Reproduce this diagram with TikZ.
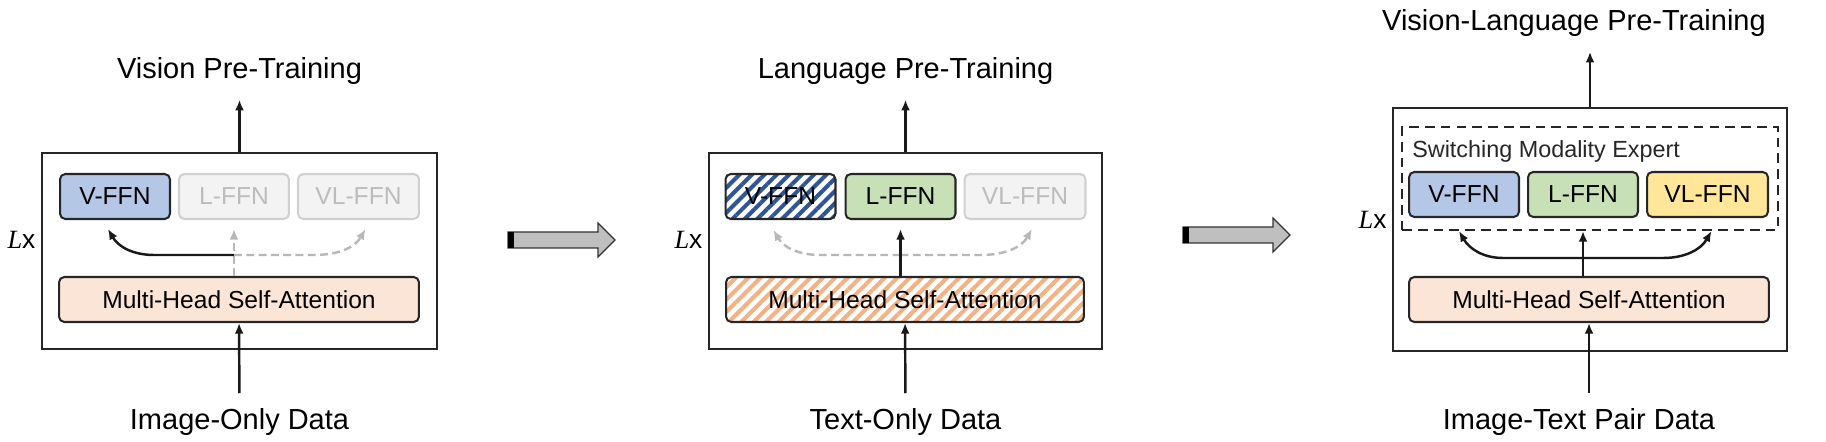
\documentclass[tikz,border=0pt]{standalone}
\usepackage{fontspec}
\setmainfont{Liberation Serif}
\setsansfont{Liberation Sans}
\usetikzlibrary{positioning}
\usetikzlibrary{arrows.meta,patterns.meta}

\definecolor{vblue}{RGB}{180,199,231}
\definecolor{lgreen}{RGB}{199,224,182}
\definecolor{vlyellow}{RGB}{255,230,153}
\definecolor{attnpeach}{RGB}{250,229,214}
\definecolor{offfill}{RGB}{243,243,243}
\definecolor{offline}{RGB}{208,208,208}
\definecolor{offtext}{RGB}{188,188,188}
\definecolor{hatchblue}{RGB}{47,85,151}
\definecolor{hatchorange}{RGB}{244,177,131}

\tikzset{
  ffn/.style={draw=black!85, line width=1.15pt, rounded corners=3pt, minimum width=2.2cm,
    minimum height=0.9cm, inner sep=0pt, font=\sffamily\fontsize{14}{16}\selectfont},
  wideffn/.style={ffn, minimum width=2.42cm},
  offffn/.style={draw=offline, fill=offfill, text=offtext},
  hatchv/.style={pattern={Lines[angle=45,distance=5pt,line width=2.3pt]}, pattern color=hatchblue},
  hatcha/.style={pattern={Lines[angle=45,distance=5pt,line width=2.3pt]}, pattern color=hatchorange},
  attn/.style={ffn, minimum width=7.2cm},
  layer/.style={draw=black!85, line width=1.45pt, inner sep=0pt},
  expert/.style={draw=black!85, line width=1.2pt, dash pattern=on 5.5pt off 3.5pt, inner sep=0pt},
  caption/.style={font=\sffamily\fontsize{16.5}{20}\selectfont, inner sep=0.3cm},
  lx/.style={font=\sffamily\fontsize{15}{18}\selectfont, inner sep=0pt},
  arr/.style={-{Latex[length=6pt,width=5pt]}, line width=1.4pt, black!90},
  offarr/.style={arr, black!28, dash pattern=on 4.5pt off 2.5pt},
}

\begin{document}
\begin{tikzpicture}[x=0.02cm, y=-0.02cm]
  \useasboundingbox (0,0) rectangle (1826,442);

  \node[layer, minimum width=7.9cm, minimum height=3.92cm] (box1) at (239.5,251) {};
  \node[ffn, fill=vblue] (vffn1) at (115,196.5) {V-FFN};
  \node[ffn, offffn, right=0.14cm of vffn1] (lffn1) {L-FFN};
  \node[wideffn, offffn, right=0.14cm of lffn1] (vlffn1) {VL-FFN};
  \node[attn, fill=attnpeach] (attn1) at (239,299.5) {Multi-Head Self-Attention};
  \node[caption, above=1.04cm of box1] (title1) {Vision Pre-Training};
  \node[caption, below=0.86cm of box1] (data1) {Image-Only Data};
  \node[lx, left=0.1cm of box1, yshift=0.22cm] (lx1) {{\rmfamily\itshape L}x};
  \coordinate (j1) at (lffn1.south |- 0,255);
  \draw[arr] (box1) -- (title1);
  \draw[arr] (data1) -- (attn1);
  \draw[offarr] (lffn1.south |- attn1.north) -- ([yshift=-0.18cm]lffn1.south);
  \draw[offarr] (j1) -- ++(1.6cm,0) to[out=0,in=-120] ([xshift=0.14cm,yshift=-0.18cm]vlffn1.south);
  \draw[arr] (j1) -- ++(-1.6cm,0) to[out=180,in=-60] ([xshift=-0.14cm,yshift=-0.18cm]vffn1.south);

  \node[layer, minimum width=7.86cm, minimum height=3.92cm] (box2) at (905.5,251) {};
  \node[ffn, hatchv] (vffn2) at (780.5,196.5) {V-FFN};
  \node[ffn, fill=lgreen, right=0.14cm of vffn2] (lffn2) {L-FFN};
  \node[wideffn, offffn, right=0.14cm of lffn2] (vlffn2) {VL-FFN};
  \node[attn, hatcha, minimum width=7.16cm] (attn2) at (905,299.5) {Multi-Head Self-Attention};
  \node[caption, above=1.04cm of box2] (title2) {Language Pre-Training};
  \node[caption, below=0.86cm of box2] (data2) {Text-Only Data};
  \node[lx, left=0.1cm of box2, yshift=0.22cm] (lx2) {{\rmfamily\itshape L}x};
  \coordinate (j2) at (lffn2.south |- 0,255);
  \draw[arr] (box2) -- (title2);
  \draw[arr] (data2) -- (attn2);
  \draw[offarr] (j2) -- ++(-1.6cm,0) to[out=180,in=-60] ([xshift=-0.14cm,yshift=-0.18cm]vffn2.south);
  \draw[offarr] (j2) -- ++(1.6cm,0) to[out=0,in=-120] ([xshift=0.14cm,yshift=-0.18cm]vlffn2.south);
  \draw[arr] (lffn2.south |- attn2.north) -- ([yshift=-0.18cm]lffn2.south);

  \node[layer, minimum width=7.88cm, minimum height=4.86cm] (box3) at (1590,229.5) {};
  \node[expert, minimum width=7.52cm, minimum height=2.06cm] (expert3) at (1590,178.5) {};
  \node[ffn, fill=vblue] (vffn3) at (1464,194.5) {V-FFN};
  \node[ffn, fill=lgreen, right=0.14cm of vffn3] (lffn3) {L-FFN};
  \node[wideffn, fill=vlyellow, right=0.14cm of lffn3] (vlffn3) {VL-FFN};
  \node[font=\sffamily\fontsize{13.3}{16}\selectfont, text=black!85, inner sep=0pt,
    below right=0.28cm and 0.22cm of expert3.north west] (label3) {Switching Modality Expert};
  \node[attn, fill=attnpeach] (attn3) at (1589,299.5) {Multi-Head Self-Attention};
  \node[caption, above=1.1cm of box3, xshift=-0.32cm] (title3) {Vision-Language Pre-Training};
  \node[caption, below=0.82cm of box3, xshift=-0.22cm] (data3) {Image-Text Pair Data};
  \node[lx, left=0.1cm of box3, yshift=0.2cm] (lx3) {{\rmfamily\itshape L}x};
  \coordinate (j3) at (lffn3.south |- 0,258);
  \draw[arr] (box3.north) -- (box3.north |- title3.south);
  \draw[arr] (attn3.south |- data3.north) -- (attn3.south);
  \draw[arr] (lffn3.south |- attn3.north) -- (lffn3.south |- expert3.south);
  \draw[arr] (j3) -- ++(-1.6cm,0) to[out=180,in=-60] ([xshift=-0.1cm]vffn3.south |- expert3.south);
  \draw[arr] (j3) -- ++(1.6cm,0) to[out=0,in=-120] ([xshift=0.08cm]vlffn3.south |- expert3.south);

  \foreach \x/\y in {508/240, 1183/235} {
    \draw[line width=0.7pt, black!80, fill=black!25] (\x,\y-8) -- (\x+90,\y-8) -- (\x+90,\y-17)
      -- (\x+107,\y) -- (\x+90,\y+17) -- (\x+90,\y+8) -- (\x,\y+8) -- cycle;
    \fill[black] (\x,\y-8) rectangle (\x+6,\y+8);
  }
\end{tikzpicture}
\end{document}
